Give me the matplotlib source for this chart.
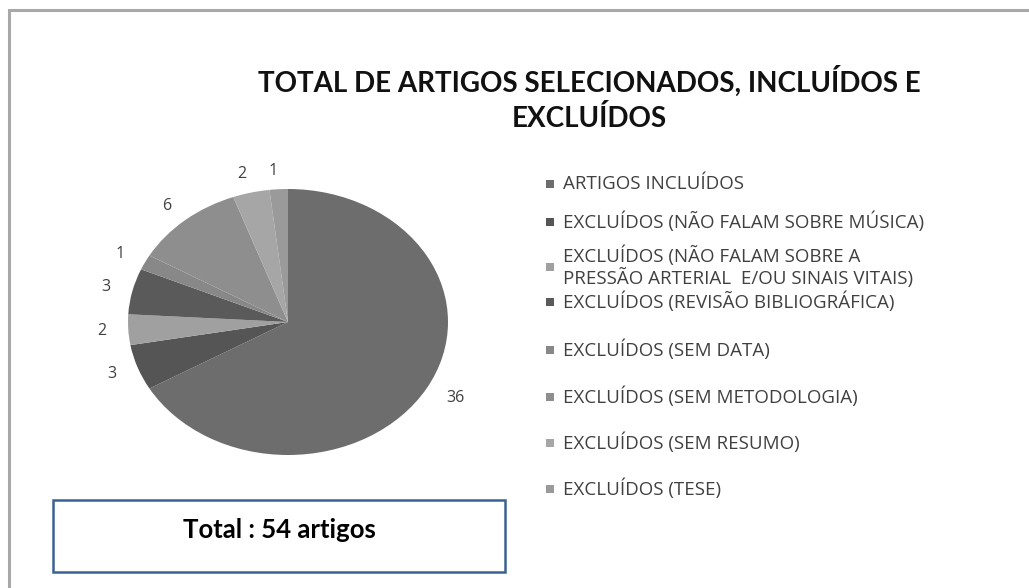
import matplotlib.pyplot as plt
from matplotlib.patches import Rectangle

# dados do grafico
categorias = [
    "ARTIGOS INCLUÍDOS",
    "EXCLUÍDOS (NÃO FALAM SOBRE MÚSICA)",
    "EXCLUÍDOS (NÃO FALAM SOBRE A\nPRESSÃO ARTERIAL  E/OU SINAIS VITAIS)",
    "EXCLUÍDOS (REVISÃO BIBLIOGRÁFICA)",
    "EXCLUÍDOS (SEM DATA)",
    "EXCLUÍDOS (SEM METODOLOGIA)",
    "EXCLUÍDOS (SEM RESUMO)",
    "EXCLUÍDOS (TESE)",
]
valores = [36, 3, 2, 3, 1, 6, 2, 1]
cores = ["#6d6d6d", "#555555", "#a0a0a0", "#5a5a5a",
         "#888888", "#8e8e8e", "#a6a6a6", "#9a9a9a"]
titulo = "TOTAL DE ARTIGOS SELECIONADOS, INCLUÍDOS E\nEXCLUÍDOS"
texto_total = "Total : 54 artigos"

W, H = 1029, 588
fig = plt.figure(figsize=(W / 100, H / 100), dpi=100)
fig.patch.set_facecolor("white")

def fx(px):
    return px / W

def fy(py):
    return 1 - py / H

# moldura cinza (so aparecem topo e esquerda)
fig.patches.append(Rectangle((fx(9), fy(800)), fx(1200), 790 / H,
                             transform=fig.transFigure, fill=False,
                             edgecolor="#a8a8a8", linewidth=2.2))

# titulo
fig.text(fx(589), fy(99), titulo, ha="center", va="center",
         fontsize=20, fontweight="bold", family="Lato",
         color="#111111", linespacing=1.38)

# pizza (elipse achatada)
ax = fig.add_axes([fx(128), fy(455), fx(320), (455 - 189) / H])
fatias, rotulos = ax.pie(valores, colors=cores, startangle=90,
                         counterclock=False, labels=[str(v) for v in valores],
                         labeldistance=1.14,
                         textprops=dict(fontsize=11.5, color="#404040",
                                        family="Open Sans"))
ax.set_aspect("auto")
ax.set_xlim(-1, 1)
ax.set_ylim(-1, 1)
ax.axis("off")

# legenda desenhada a mao
legenda_y = [184, 222, 267, 302, 350, 397, 443, 489]
for nome, fatia, y in zip(categorias, fatias, legenda_y):
    fig.patches.append(Rectangle((fx(546), fy(y + 4)), fx(8), 8 / H,
                                 transform=fig.transFigure,
                                 facecolor=fatia.get_facecolor(),
                                 edgecolor="none"))
    fig.text(fx(563), fy(y), nome, ha="left", va="center",
             fontsize=13.5, family="Open Sans", color="#404040",
             linespacing=1.1)

# caixa do total
fig.patches.append(Rectangle((fx(53), fy(572)), fx(452), (572 - 500) / H,
                             transform=fig.transFigure, fill=False,
                             edgecolor="#3a6293", linewidth=1.8))
fig.text(fx(279), fy(530), texto_total, ha="center", va="center",
         fontsize=18.5, fontweight="bold", family="Lato", color="black")

fig.savefig("out.png", dpi=100)
